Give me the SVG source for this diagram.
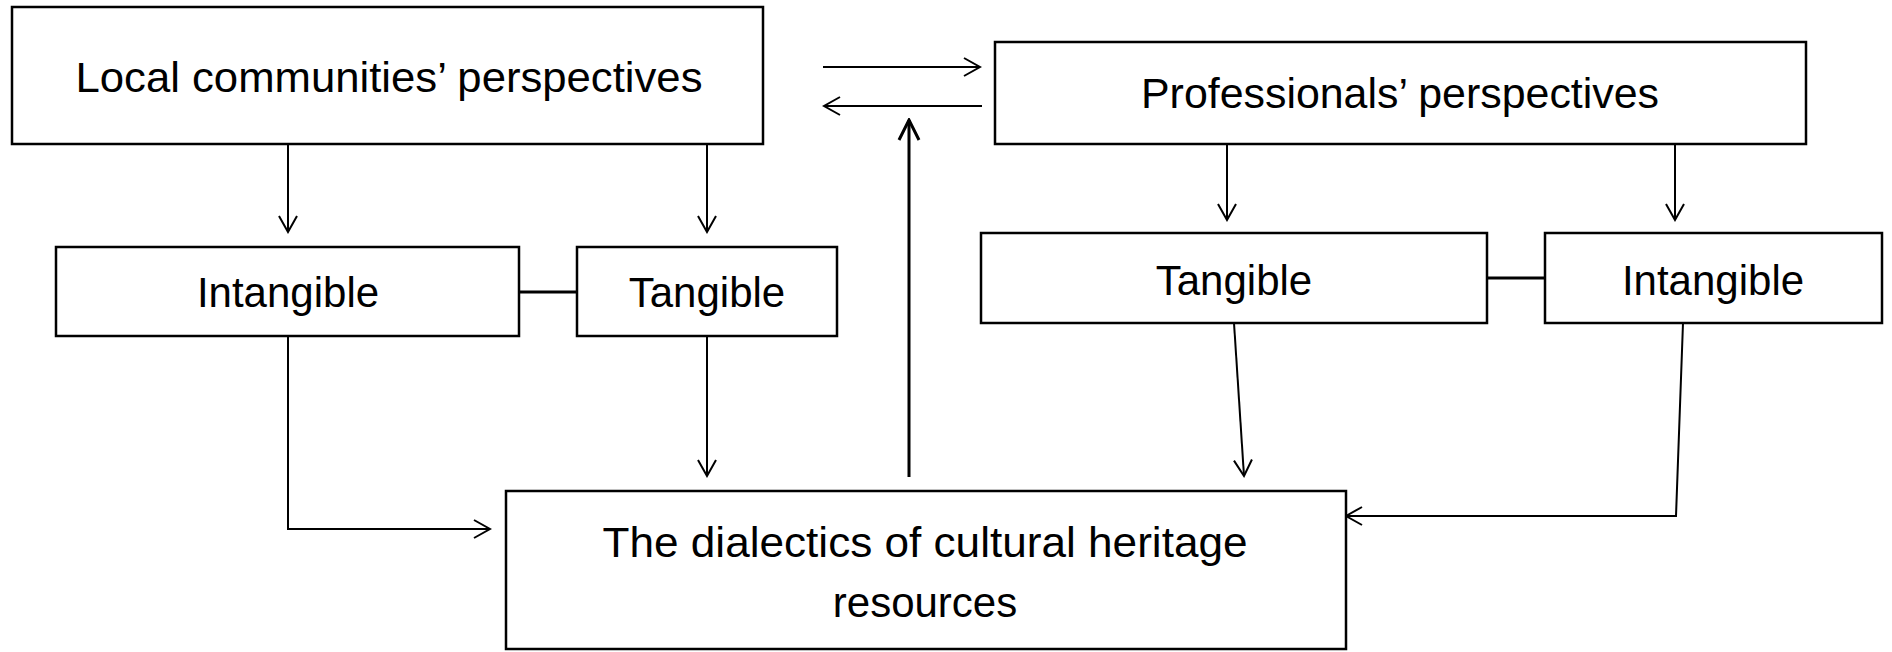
<svg xmlns="http://www.w3.org/2000/svg" width="1892" height="652" viewBox="0 0 1892 652">
<style>
.box{fill:#fff;stroke:#000;stroke-width:2.5}
.lbl{font-family:"Liberation Sans",Arial,sans-serif;font-size:42px;fill:#000;text-anchor:middle}
.con{fill:none;stroke:#000;stroke-width:2}
.thick{fill:none;stroke:#000;stroke-width:3}
</style>
<defs>
<marker id="ah" viewBox="0 0 20 20" markerWidth="20" markerHeight="20" refX="18" refY="10" orient="auto" markerUnits="userSpaceOnUse">
<path d="M2,1 L18,10 L2,19" fill="none" stroke="#000" stroke-width="2"/>
</marker>
<marker id="ahb" viewBox="0 0 24 24" markerWidth="24" markerHeight="24" refX="22" refY="12" orient="auto" markerUnits="userSpaceOnUse">
<path d="M2,2 L22,12 L2,22" fill="none" stroke="#000" stroke-width="3"/>
</marker>
</defs>
<rect width="1892" height="652" fill="#fff"/>
<g id="connectors">
<line class="con" x1="288" y1="144" x2="288" y2="232" marker-end="url(#ah)"/>
<line class="con" x1="707" y1="144" x2="707" y2="232" marker-end="url(#ah)"/>
<line class="con" x1="1227" y1="144" x2="1227" y2="220" marker-end="url(#ah)"/>
<line class="con" x1="1675" y1="144" x2="1675" y2="220" marker-end="url(#ah)"/>
<line class="con" x1="823" y1="67" x2="980" y2="67" marker-end="url(#ah)"/>
<line class="con" x1="982" y1="106" x2="824" y2="106" marker-end="url(#ah)"/>
<line class="thick" x1="909" y1="477" x2="909" y2="120" marker-end="url(#ahb)"/>
<line class="thick" x1="519" y1="292" x2="577" y2="292"/>
<line class="thick" x1="1487" y1="278" x2="1545" y2="278"/>
<polyline class="con" points="288,336 288,529 490,529" marker-end="url(#ah)"/>
<line class="con" x1="707" y1="336" x2="707" y2="476" marker-end="url(#ah)"/>
<line class="con" x1="1234" y1="323" x2="1244" y2="476" marker-end="url(#ah)"/>
<polyline class="con" points="1683,323 1676,516 1346,516" marker-end="url(#ah)"/>
</g>
<g id="local">
<rect class="box" x="12" y="7" width="751" height="137"/>
<text class="lbl" x="389" y="92" textLength="627" lengthAdjust="spacingAndGlyphs">Local communities’ perspectives</text>
</g>
<g id="professionals">
<rect class="box" x="995" y="42" width="811" height="102"/>
<text class="lbl" x="1400" y="108" textLength="518" lengthAdjust="spacingAndGlyphs">Professionals’ perspectives</text>
</g>
<g id="intangible-left">
<rect class="box" x="56" y="247" width="463" height="89"/>
<text class="lbl" x="288" y="307">Intangible</text>
</g>
<g id="tangible-left">
<rect class="box" x="577" y="247" width="260" height="89"/>
<text class="lbl" x="707" y="307">Tangible</text>
</g>
<g id="tangible-right">
<rect class="box" x="981" y="233" width="506" height="90"/>
<text class="lbl" x="1234" y="295">Tangible</text>
</g>
<g id="intangible-right">
<rect class="box" x="1545" y="233" width="337" height="90"/>
<text class="lbl" x="1713" y="295">Intangible</text>
</g>
<g id="dialectics">
<rect class="box" x="506" y="491" width="840" height="158"/>
<text class="lbl" x="925" y="557" textLength="645" lengthAdjust="spacingAndGlyphs">The dialectics of cultural heritage</text>
<text class="lbl" x="925" y="617">resources</text>
</g>
</svg>
